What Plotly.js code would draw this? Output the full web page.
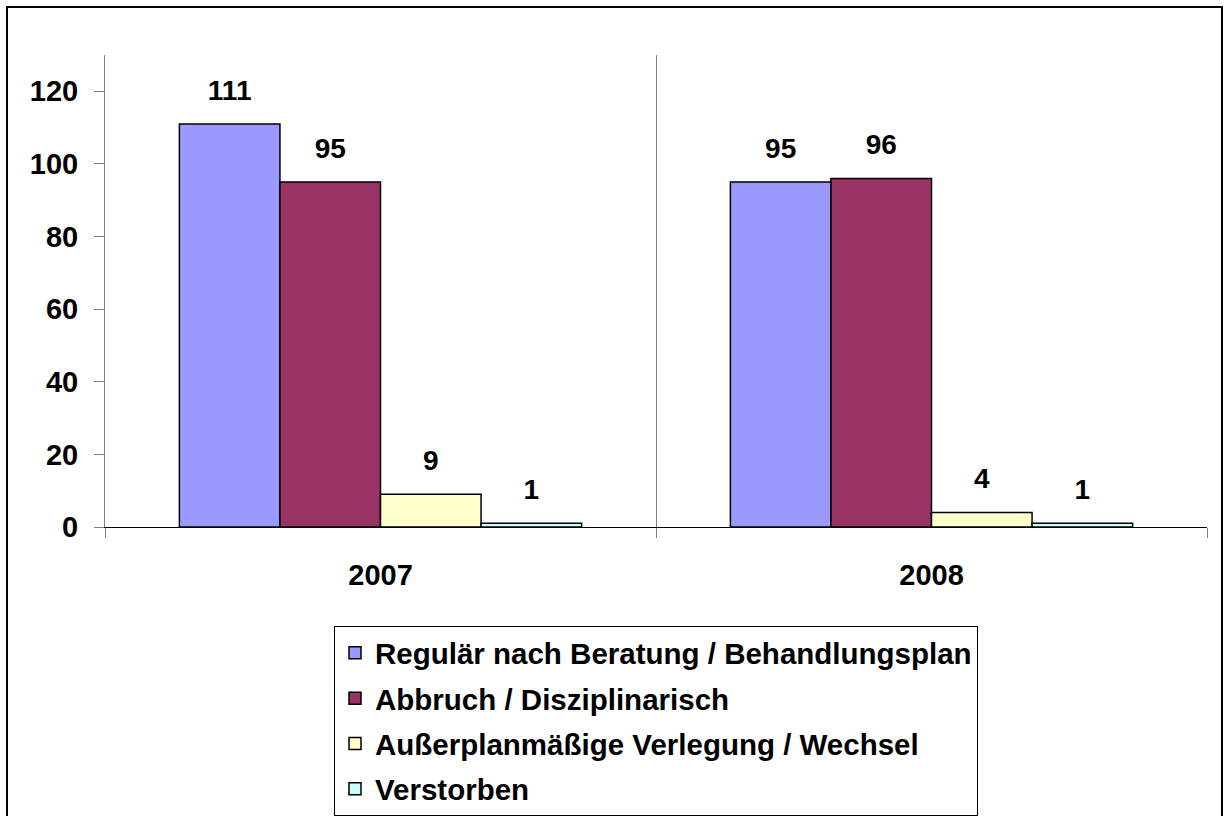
<!DOCTYPE html>
<html>
<head>
<meta charset="utf-8">
<script src="https://cdn.plot.ly/plotly-3.0.1.min.js"></script>
<style>
  html, body { margin: 0; padding: 0; background: #fff; }
  #wrap { position: relative; width: 1228px; height: 816px; }
  #chart { width: 1228px; height: 816px; }
  #frame { position: absolute; left: 6px; top: 6px; width: 1217px; height: 812px;
           border: 2px solid #000; pointer-events: none; box-sizing: border-box; }
</style>
</head>
<body>
<div id="wrap">
  <div id="chart"></div>
  <div id="frame"></div>
</div>
<script>
const years = ['2007', '2008'];
const seriesNames = [
  'Regulär nach Beratung / Behandlungsplan',
  'Abbruch / Disziplinarisch',
  'Außerplanmäßige Verlegung / Wechsel',
  'Verstorben'
];
const regulaer = [111, 95];
const abbruch = [95, 96];
const ausserplan = [9, 4];
const verstorben = [1, 1];
const seriesValues = [regulaer, abbruch, ausserplan, verstorben];
const seriesColors = ['#9999FF', '#993366', '#FFFFCC', '#CCFFFF'];
const yTicks = [0, 20, 40, 60, 80, 100, 120];

const FONT = 'Liberation Sans, Arial, sans-serif';
const traces = [];
seriesValues.forEach((vals, i) => {
  traces.push({
    type: 'bar', name: seriesNames[i], x: years, y: vals,
    offsetgroup: 'g' + i, legendgroup: 'g' + i,
    marker: { color: seriesColors[i], line: { color: '#000', width: 1.5 } },
    hoverinfo: 'skip'
  });
});
seriesValues.forEach((vals, i) => {
  traces.push({
    type: 'scatter', mode: 'markers+text', x: years, y: vals,
    offsetgroup: 'g' + i, showlegend: false,
    text: vals.map(String), textposition: 'top center',
    textfont: { family: FONT, size: 28, color: '#000', weight: 'bold' },
    marker: { size: 26, opacity: 0 },
    cliponaxis: false, hoverinfo: 'skip'
  });
});

const layout = {
  width: 1228, height: 816,
  margin: { l: 105, r: 21, t: 55, b: 289, autoexpand: false },
  paper_bgcolor: '#fff', plot_bgcolor: '#fff',
  font: { family: FONT, size: 28, color: '#000', weight: 'bold' },
  barmode: 'group', bargap: 0.27, bargroupgap: 0,
  scattermode: 'group', scattergap: 0.27,
  showlegend: true,
  legend: {
    orientation: 'v', x: 0.5, xanchor: 'center', y: -0.21, yanchor: 'top',
    bordercolor: '#000', borderwidth: 1, bgcolor: '#fff',
    font: { family: FONT, size: 29.5, color: '#000', weight: 'bold' },
    tracegroupgap: 4, traceorder: 'grouped'
  },
  xaxis: {
    type: 'category', range: [-0.5, 1.5], tickson: 'boundaries',
    ticks: 'outside', ticklen: 10, tickcolor: '#808080', tickwidth: 1,
    showgrid: true, gridcolor: '#808080', gridwidth: 1,
    showline: true, linecolor: '#000', linewidth: 1,
    ticklabelstandoff: 22,
    tickfont: { family: FONT, size: 29, color: '#000', weight: 'bold' },
    fixedrange: true
  },
  yaxis: {
    range: [0, 130], tickvals: yTicks, ticktext: yTicks.map(String),
    ticks: 'outside', ticklen: 10, tickcolor: '#808080', tickwidth: 1,
    showline: true, linecolor: '#808080', linewidth: 1,
    showgrid: false, zeroline: false,
    ticklabelstandoff: 10,
    tickfont: { family: FONT, size: 29, color: '#000', weight: 'bold' },
    fixedrange: true
  }
};

Plotly.newPlot('chart', traces, layout, { displayModeBar: false, staticPlot: true });
</script>
</body>
</html>
